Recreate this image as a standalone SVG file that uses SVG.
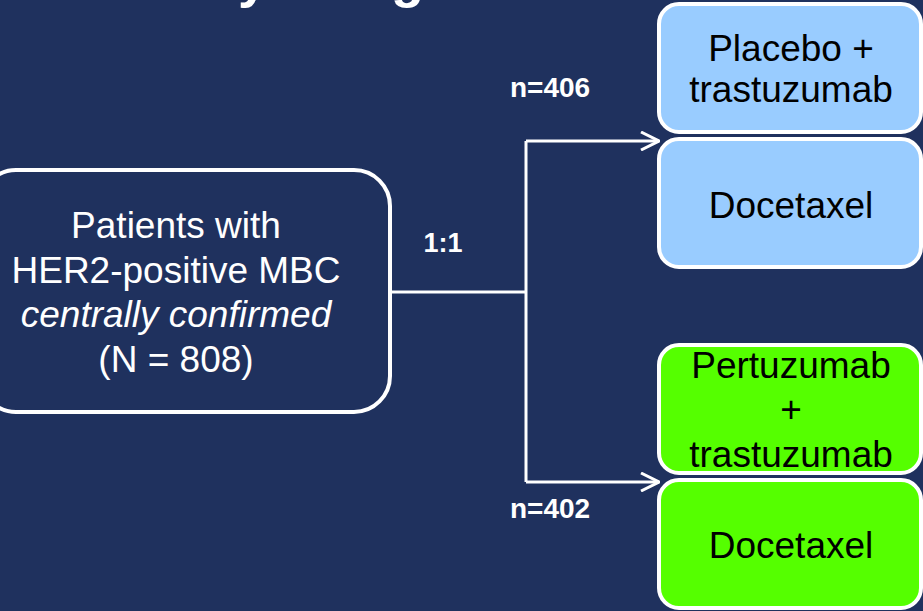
<svg xmlns="http://www.w3.org/2000/svg" width="923" height="611" viewBox="0 0 923 611">
<defs>
<style>
.t{font-family:"Liberation Sans",Arial,sans-serif;}
.w{fill:#FFFFFF;}
.k{fill:#000000;}
.b{font-weight:bold;}
.box{stroke:#FFFFFF;stroke-width:4;}
.con{fill:none;stroke:#FFFFFF;stroke-width:3;}
</style>
<marker id="arr" viewBox="0 0 20 20" refX="19" refY="10" markerWidth="20" markerHeight="20" markerUnits="userSpaceOnUse" orient="auto">
<path d="M1,1 L19,10 L1,19" fill="none" stroke="#FFFFFF" stroke-width="3"/>
</marker>
</defs>
<rect width="923" height="611" fill="#1F315E"/>
<text class="t w b" x="118" y="-3" font-size="54">Study design</text>
<g id="patients">
<rect class="box" x="-20" y="170" width="410" height="242" rx="36" fill="#1F315E"/>
<text class="t w" x="176" y="238" font-size="37" text-anchor="middle">Patients with</text>
<text class="t w" x="176" y="283" font-size="37" text-anchor="middle">HER2-positive MBC</text>
<text class="t w" x="176" y="327" font-size="37" text-anchor="middle" font-style="italic">centrally confirmed</text>
<text class="t w" x="176" y="372" font-size="37" text-anchor="middle">(N = 808)</text>
</g>
<g id="placebo">
<rect class="box" x="659" y="4" width="262" height="128" rx="20" fill="#99CCFF"/>
<text class="t k" x="791" y="61" font-size="37" text-anchor="middle">Placebo +</text>
<text class="t k" x="791" y="102" font-size="37" text-anchor="middle">trastuzumab</text>
</g>
<g id="docetaxel1">
<rect class="box" x="659" y="139" width="262" height="128" rx="20" fill="#99CCFF"/>
<text class="t k" x="791" y="218" font-size="37" text-anchor="middle">Docetaxel</text>
</g>
<g id="pertuzumab">
<rect class="box" x="659" y="345" width="262" height="128" rx="20" fill="#55FF00"/>
<text class="t k" x="791" y="378" font-size="37" text-anchor="middle">Pertuzumab</text>
<text class="t k" x="791" y="422" font-size="37" text-anchor="middle">+</text>
<text class="t k" x="791" y="467" font-size="37" text-anchor="middle">trastuzumab</text>
</g>
<g id="docetaxel2">
<rect class="box" x="659" y="480" width="262" height="128" rx="20" fill="#55FF00"/>
<text class="t k" x="791" y="558" font-size="37" text-anchor="middle">Docetaxel</text>
</g>
<g id="connectors">
<path class="con" d="M392,292 H526"/>
<path class="con" d="M526,141 V482"/>
<path class="con" d="M526,141 H659" marker-end="url(#arr)"/>
<path class="con" d="M526,482 H659" marker-end="url(#arr)"/>
</g>
<g id="labels">
<text class="t w b" x="510" y="97" font-size="28">n=406</text>
<text class="t w b" x="443" y="252" font-size="27" text-anchor="middle">1:1</text>
<text class="t w b" x="510" y="518" font-size="28">n=402</text>
</g>
</svg>
